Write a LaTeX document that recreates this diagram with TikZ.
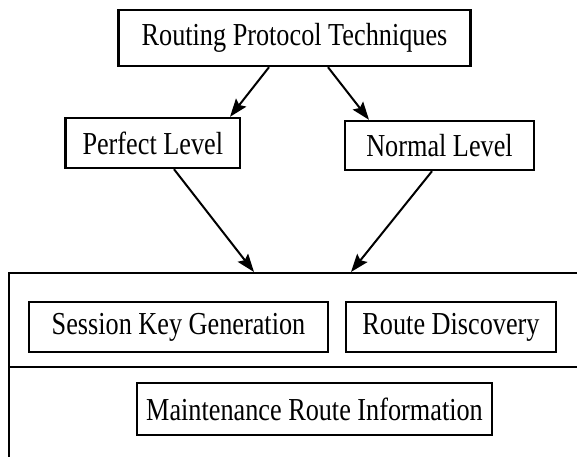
\documentclass[tikz,border=0pt]{standalone}
\usepackage{fontspec}
\setmainfont{Liberation Serif}[FakeStretch=0.82]
\usetikzlibrary{arrows.meta}
\begin{document}
\begin{tikzpicture}[x=1pt,y=1pt,
  box/.style={draw=black,line width=2.4pt,fill=white,inner sep=0pt,font=\fontsize{32}{38}\selectfont},
  arr/.style={line width=2pt,-{Stealth[length=18pt,width=13pt,inset=3pt]}},
  frame/.style={draw=black,line width=2pt,inner sep=0pt}]
\clip (0,0) rectangle (577,-456);
\fill[white] (0,0) rectangle (577,-456);
\node[frame,minimum width=584pt,minimum height=200pt] (outer) at (301,-373) {};
\coordinate (divL) at (9,-367);
\coordinate (divR) at (595,-367);
\draw[line width=2pt] (divL) -- (divR);
\node[box,minimum width=352pt,minimum height=56pt] (top) at (294.5,-38) {Routing Protocol Techniques};
\node[box,minimum width=174.5pt,minimum height=50pt] (perf) at (152.8,-143) {Perfect Level};
\node[box,minimum width=189pt,minimum height=49pt] (norm) at (439.5,-145.5) {Normal Level};
\node[box,minimum width=299pt,minimum height=50pt] (skg) at (178.5,-327) {Session Key Generation};
\node[box,minimum width=210pt,minimum height=50pt] (rd) at (451,-327) {Route Discovery};
\node[box,minimum width=355pt,minimum height=52pt] (mri) at (314.5,-409) {Maintenance Route Information};
\draw[arr] ([xshift=-25.5pt]top.south) -- ([xshift=77.2pt]perf.north);
\draw[arr] ([xshift=33.5pt]top.south) -- ([xshift=-70.5pt]norm.north);
\draw[arr] ([xshift=21.2pt]perf.south) -- ([xshift=-47pt]outer.north);
\draw[arr] ([xshift=-7.5pt]norm.south) -- ([xshift=50pt]outer.north);
\end{tikzpicture}
\end{document}
